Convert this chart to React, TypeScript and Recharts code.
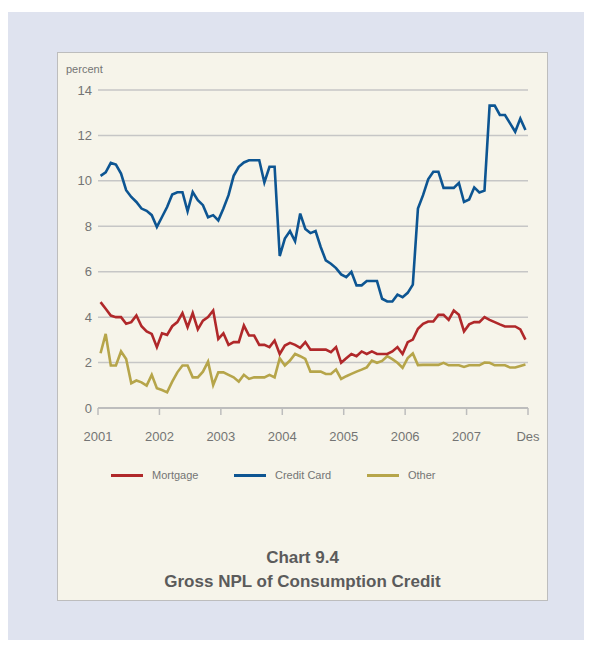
import { LineChart, Line, XAxis, YAxis, CartesianGrid } from "recharts";

// monthly, Jan 2001 .. Dec 2007
const mortgage = [
  4.66, 4.37, 4.07, 4.0, 4.0, 3.71, 3.78, 4.07, 3.6, 3.37, 3.26, 2.68,
  3.29, 3.22, 3.6, 3.78, 4.18, 3.56, 4.18, 3.46, 3.85, 4.0, 4.29, 3.04,
  3.29, 2.78, 2.9, 2.9, 3.63, 3.19, 3.19, 2.78, 2.78, 2.68, 2.97, 2.38,
  2.75, 2.87, 2.78, 2.65, 2.9, 2.57, 2.57, 2.57, 2.57, 2.46, 2.68, 1.99,
  2.19, 2.38, 2.28, 2.49, 2.38, 2.49, 2.38, 2.38, 2.38, 2.49, 2.68, 2.38,
  2.9, 3.01, 3.49, 3.71, 3.81, 3.81, 4.1, 4.1, 3.88, 4.29, 4.1, 3.37,
  3.68, 3.78, 3.78, 4.0, 3.88, 3.78, 3.68, 3.59, 3.59, 3.59, 3.46, 3.01,
];

const creditCard = [
  10.22, 10.37, 10.79, 10.72, 10.32, 9.59, 9.29, 9.07, 8.78, 8.68, 8.49, 7.97,
  8.41, 8.85, 9.4, 9.5, 9.5, 8.66, 9.51, 9.15, 8.93, 8.4, 8.49, 8.26,
  8.78, 9.37, 10.22, 10.62, 10.81, 10.91, 10.91, 10.91, 9.93, 10.62, 10.62, 6.69,
  7.46, 7.79, 7.34, 8.56, 7.88, 7.7, 7.79, 7.09, 6.5, 6.35, 6.16, 5.88,
  5.76, 5.99, 5.4, 5.4, 5.59, 5.59, 5.59, 4.81, 4.69, 4.69, 4.99, 4.88,
  5.07, 5.43, 8.78, 9.37, 10.07, 10.4, 10.4, 9.69, 9.69, 9.69, 9.91, 9.07,
  9.18, 9.71, 9.49, 9.57, 13.31, 13.31, 12.9, 12.9, 12.53, 12.16, 12.74, 12.24,
];

const other = [
  2.41, 3.26, 1.87, 1.87, 2.49, 2.16, 1.09, 1.21, 1.13, 0.99, 1.46, 0.87,
  0.79, 0.69, 1.16, 1.57, 1.87, 1.87, 1.35, 1.35, 1.6, 2.04, 1.01, 1.57,
  1.57, 1.46, 1.35, 1.16, 1.46, 1.28, 1.35, 1.35, 1.35, 1.46, 1.35, 2.19,
  1.87, 2.09, 2.38, 2.28, 2.16, 1.6, 1.6, 1.6, 1.5, 1.5, 1.69, 1.28,
  1.4, 1.5, 1.6, 1.69, 1.79, 2.09, 1.99, 2.07, 2.28, 2.15, 1.99, 1.77,
  2.2, 2.4, 1.89, 1.9, 1.9, 1.9, 1.9, 1.99, 1.88, 1.88, 1.88, 1.81,
  1.88, 1.88, 1.88, 2.0, 1.99, 1.88, 1.88, 1.88, 1.78, 1.78, 1.85, 1.91,
];

const xTicks = [0, 12, 24, 36, 48, 60, 72, 84];
const xLabels = ["2001", "2002", "2003", "2004", "2005", "2006", "2007", "Des"];
const yTicks = [0, 2, 4, 6, 8, 10, 12, 14];

const seriesNames = ["Mortgage", "Credit Card", "Other"];
const colors = ["#b0282a", "#0d5592", "#b6a54a"];

// month number as x, plotted mid-month
const data = mortgage.map((v, i) => ({
  m: i + 0.5,
  mortgage: v,
  creditCard: creditCard[i],
  other: other[i],
}));

const font = '"Liberation Sans", Arial, sans-serif';
const textGrey = "#747474";

export default function App() {
  return (
    <div style={{ position: "absolute", left: 0, top: 0, width: 592, height: 646, fontFamily: font }}>
      <div style={{ position: "absolute", left: 8, top: 12, width: 576, height: 628, background: "#dfe3ef" }} />
      <div
        style={{
          position: "absolute",
          left: 57,
          top: 52,
          width: 491,
          height: 549,
          boxSizing: "border-box",
          background: "#f6f4ea",
          border: "1px solid #bdbdbd",
        }}
      />

      <div style={{ position: "absolute", left: 66, top: 63, fontSize: 11, color: textGrey }}>percent</div>

      <div style={{ position: "absolute", left: 0, top: 0 }}>
        <LineChart width={592} height={460} data={data} margin={{ top: 90, right: 64, left: 48, bottom: 0 }}>
          <CartesianGrid horizontal vertical={false} stroke="#c6c6c6" strokeWidth={1.5} />
          <XAxis
            dataKey="m"
            type="number"
            domain={[0, 84]}
            ticks={xTicks}
            tickFormatter={(v) => xLabels[xTicks.indexOf(v)]}
            height={52}
            axisLine={{ stroke: "#bdbdbd", strokeWidth: 2 }}
            tickLine={{ stroke: "#bdbdbd", strokeWidth: 1.5 }}
            tickSize={7}
            tickMargin={17}
            interval={0}
            tick={{ fill: textGrey, fontSize: 13, fontFamily: font }}
          />
          <YAxis
            domain={[0, 14]}
            ticks={yTicks}
            width={50}
            axisLine={false}
            tickLine={false}
            tickSize={4}
            tickMargin={2}
            tick={{ fill: textGrey, fontSize: 13, fontFamily: font }}
          />
          <Line dataKey="other" stroke={colors[2]} strokeWidth={2.6} dot={false} isAnimationActive={false} />
          <Line dataKey="mortgage" stroke={colors[0]} strokeWidth={2.6} dot={false} isAnimationActive={false} />
          <Line dataKey="creditCard" stroke={colors[1]} strokeWidth={2.6} dot={false} isAnimationActive={false} />
        </LineChart>
      </div>

      {/* legend */}
      {seriesNames.map((name, i) => {
        const left = [111, 234, 367][i];
        return (
          <div key={name} style={{ position: "absolute", left, top: 467, height: 16, display: "flex", alignItems: "center" }}>
            <div style={{ width: 32, height: 3, background: colors[i], marginRight: 9 }} />
            <span style={{ fontSize: 11, color: textGrey }}>{name}</span>
          </div>
        );
      })}

      <div
        style={{
          position: "absolute",
          left: 57,
          top: 546,
          width: 491,
          textAlign: "center",
          fontWeight: "bold",
          fontSize: 17,
          lineHeight: "24px",
          color: "#5b5b5b",
        }}
      >
        <div>Chart 9.4</div>
        <div>Gross NPL of Consumption Credit</div>
      </div>
    </div>
  );
}
